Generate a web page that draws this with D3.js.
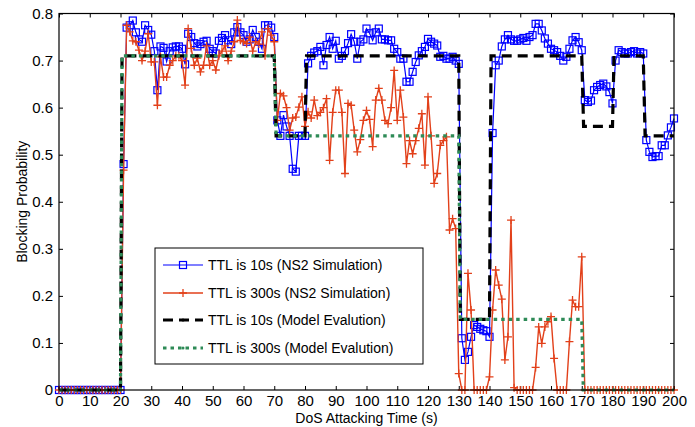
<!DOCTYPE html>
<html>
<head>
<meta charset="utf-8">
<script src="https://cdn.jsdelivr.net/npm/d3@7"></script>
<style>
  body { margin: 0; background: #fff; }
  svg { display: block; font-family: Arial, "Liberation Sans", sans-serif; }
</style>
</head>
<body>
<div id="chart"></div>
<script>
// blocking probability, one sample per second (t = 0..200)
const ttl10Sim = [
  0,0,0,0,0,0,0,0,0,0, 0,0,0,0,0,0,0,0,0,0,
  0, 0.48, 0.77, 0.775, 0.785, 0.76, 0.745, 0.74, 0.775, 0.765,
  0.755, 0.72, 0.637, 0.73, 0.727, 0.698, 0.72, 0.728, 0.73, 0.73,
  0.725, 0.692, 0.757, 0.75, 0.737, 0.73, 0.735, 0.74, 0.742, 0.725,
  0.72, 0.715, 0.742, 0.748, 0.754, 0.743, 0.735, 0.76, 0.771, 0.76,
  0.754, 0.74, 0.745, 0.765, 0.75, 0.74, 0.725, 0.775, 0.775, 0.77,
  0.75, 0.573, 0.54, 0.584, 0.56, 0.54, 0.47, 0.464, 0.54, 0.54,
  0.54, 0.694, 0.71, 0.717, 0.72, 0.729, 0.69, 0.733, 0.75, 0.725,
  0.742, 0.704, 0.71, 0.72, 0.737, 0.756, 0.74, 0.704, 0.74, 0.745,
  0.768, 0.758, 0.743, 0.76, 0.768, 0.745, 0.745, 0.743, 0.743, 0.725,
  0.718, 0.704, 0.704, 0.655, 0.655, 0.676, 0.697, 0.711, 0.72, 0.729,
  0.746, 0.74, 0.736, 0.732, 0.708, 0.71, 0.704, 0.704, 0.708, 0.7,
  0.693, 0.11, 0.064, 0.081, 0.113, 0.138, 0.134, 0.13, 0.127, 0.125,
  0.113, 0.546, 0.69, 0.7, 0.73, 0.745, 0.754, 0.745, 0.742, 0.742,
  0.745, 0.748, 0.742, 0.75, 0.754, 0.778, 0.778, 0.764, 0.747, 0.736,
  0.725, 0.722, 0.718, 0.71, 0.7, 0.708, 0.725, 0.743, 0.75, 0.739,
  0.722, 0.616, 0.612, 0.615, 0.637, 0.644, 0.648, 0.651, 0.645, 0.633,
  0.609, 0.7, 0.722, 0.718, 0.715, 0.715, 0.718, 0.72, 0.715, 0.718,
  0.715, 0.531, 0.506, 0.495, 0.497, 0.497, 0.52, 0.52, 0.541, 0.558,
  0.577
];
const ttl300Sim = [
  0,0,0,0,0,0,0,0,0,0, 0,0,0,0,0,0,0,0,0,0,
  0, 0.467, 0.775, 0.761, 0.742, 0.74, 0.722, 0.7, 0.72, 0.757,
  0.697, 0.697, 0.605, 0.708, 0.665, 0.665, 0.69, 0.7, 0.71, 0.71,
  0.7, 0.648, 0.768, 0.726, 0.69, 0.705, 0.676, 0.69, 0.731, 0.69,
  0.7, 0.68, 0.71, 0.72, 0.731, 0.7, 0.72, 0.74, 0.786, 0.743,
  0.74, 0.736, 0.75, 0.72, 0.74, 0.735, 0.761, 0.71, 0.768, 0.754,
  0.74, 0.573, 0.63, 0.625, 0.6, 0.552, 0.578, 0.58, 0.601, 0.623,
  0.56, 0.591, 0.578, 0.616, 0.583, 0.59, 0.6, 0.619, 0.488, 0.59,
  0.637, 0.637, 0.59, 0.46, 0.609, 0.605, 0.552, 0.506, 0.532, 0.573,
  0.594, 0.575, 0.517, 0.616, 0.641, 0.616, 0.573, 0.566, 0.6, 0.679,
  0.573, 0.637, 0.58, 0.481, 0.53, 0.502, 0.53, 0.556, 0.587, 0.478,
  0.623, 0.54, 0.439, 0.46, 0.52, 0.53, 0.538, 0.34, 0.364, 0.343,
  0.035, 0, 0, 0.248, 0.17, 0, 0, 0, 0, 0,
  0.028, 0.17, 0.255, 0.223, 0.193, 0.064, 0.113, 0.361, 0.005, 0,
  0, 0, 0, 0, 0, 0.048, 0.134, 0.099, 0.134, 0.145,
  0.156, 0.067, 0, 0, 0, 0, 0.103, 0.191, 0.177, 0.177,
  0.283, 0, 0, 0, 0, 0, 0, 0, 0, 0,
  0, 0, 0, 0, 0, 0, 0, 0, 0, 0,
  0, 0, 0, 0, 0, 0, 0, 0, 0, 0,
  0
];
// model curves as breakpoints
const ttl10ModelTime = [0, 20, 20.5, 70, 70.6, 80, 80.5, 130, 130.5, 140, 140.5, 170, 170.6, 180, 180.5, 190, 190.6, 200];
const ttl10ModelVal  = [0, 0, 0.71, 0.71, 0.54, 0.54, 0.71, 0.71, 0.15, 0.15, 0.71, 0.71, 0.56, 0.56, 0.71, 0.71, 0.54, 0.54];
const ttl300ModelTime = [0, 20, 20.5, 70, 70.6, 130, 130.5, 170, 170.5, 200];
const ttl300ModelVal  = [0, 0, 0.71, 0.71, 0.54, 0.54, 0.15, 0.15, 0, 0];

const xTicks = [0, 10, 20, 30, 40, 50, 60, 70, 80, 90, 100, 110, 120, 130, 140, 150, 160, 170, 180, 190, 200];
const yTicks = [0, 0.1, 0.2, 0.3, 0.4, 0.5, 0.6, 0.7, 0.8];
const yTickLabels = ["0", "0.1", "0.2", "0.3", "0.4", "0.5", "0.6", "0.7", "0.8"];
const legendLabels = [
  "TTL is 10s (NS2 Simulation)",
  "TTL is 300s (NS2 Simulation)",
  "TTL is 10s (Model Evalution)",
  "TTL is 300s (Model Evalution)"
];

const W = 695, H = 427;
const pLeft = 59, pRight = 674, pTop = 13.5, pBottom = 390;
const blue = "#0000ff", red = "#e2401a", green = "#2e8b57";

const svg = d3.select("#chart").append("svg").attr("width", W).attr("height", H);

const x = d3.scaleLinear().domain([0, 200]).range([pLeft, pRight]);
const y = d3.scaleLinear().domain([0, 0.8]).range([pBottom, pTop]);

const simPts = arr => arr.map((v, i) => [i, v]);
const modelPts = (ts, vs) => ts.map((t, i) => [t, vs[i]]);
const line = d3.line().x(d => x(d[0])).y(d => y(d[1]));

// axes (ticks point inward like Matlab)
const fs = "14px", tickFs = "15px";
const gx = svg.append("g").attr("transform", `translate(0,${pBottom})`)
  .call(d3.axisBottom(x).tickValues(xTicks).tickSize(-4).tickPadding(5));
const gy = svg.append("g").attr("transform", `translate(${pLeft},0)`)
  .call(d3.axisLeft(y).tickValues(yTicks).tickSize(-4).tickPadding(6)
    .tickFormat((d, i) => yTickLabels[i]));
const gt = svg.append("g").attr("transform", `translate(0,${pTop})`)
  .call(d3.axisTop(x).tickValues(xTicks).tickSize(-4).tickFormat(""));
const gr = svg.append("g").attr("transform", `translate(${pRight},0)`)
  .call(d3.axisRight(y).tickValues(yTicks).tickSize(-4).tickFormat(""));
[gx, gy, gt, gr].forEach(g => {
  g.select(".domain").remove();
  g.attr("font-size", null).attr("font-family", null);
  g.selectAll("line").attr("stroke", "#000");
  g.selectAll("text").attr("fill", "#000").style("font-size", tickFs);
});

// series
svg.append("path").datum(simPts(ttl10Sim)).attr("d", line)
  .attr("fill", "none").attr("stroke", blue).attr("stroke-width", 1.2);
svg.append("g").selectAll("rect").data(simPts(ttl10Sim)).join("rect")
  .attr("x", d => x(d[0]) - 3.5).attr("y", d => y(d[1]) - 3.5)
  .attr("width", 7).attr("height", 7)
  .attr("fill", "none").attr("stroke", blue).attr("stroke-width", 1.2);

svg.append("path").datum(simPts(ttl300Sim)).attr("d", line)
  .attr("fill", "none").attr("stroke", red).attr("stroke-width", 1.4);
svg.append("g").selectAll("path").data(simPts(ttl300Sim)).join("path")
  .attr("d", d => {
    const cx = x(d[0]), cy = y(d[1]);
    return `M${cx - 4},${cy}H${cx + 4}M${cx},${cy - 4}V${cy + 4}`;
  })
  .attr("stroke", red).attr("stroke-width", 1.3);

svg.append("path").datum(modelPts(ttl10ModelTime, ttl10ModelVal)).attr("d", line)
  .attr("fill", "none").attr("stroke", "#000").attr("stroke-width", 3.2)
  .attr("stroke-dasharray", "10,6");
svg.append("path").datum(modelPts(ttl300ModelTime, ttl300ModelVal)).attr("d", line)
  .attr("fill", "none").attr("stroke", green).attr("stroke-width", 3.2)
  .attr("stroke-dasharray", "3.5,4");

// plot frame
svg.append("rect").attr("x", pLeft).attr("y", pTop)
  .attr("width", pRight - pLeft).attr("height", pBottom - pTop)
  .attr("fill", "none").attr("stroke", "#000").attr("stroke-width", 1.2);

// axis titles
svg.append("text").attr("x", (pLeft + pRight) / 2).attr("y", 423)
  .attr("text-anchor", "middle").style("font-size", fs).text("DoS Attacking Time (s)");
svg.append("text").attr("transform", `translate(27,${(pTop + pBottom) / 2}) rotate(-90)`)
  .attr("text-anchor", "middle").style("font-size", fs).text("Blocking Probability");

// legend
const lg = svg.append("g");
lg.append("rect").attr("x", 155).attr("y", 248).attr("width", 268).attr("height", 116)
  .attr("fill", "#fff").attr("stroke", "#000").attr("stroke-width", 1);
const rows = [265, 293, 320, 348];
const styles = [
  { c: blue, w: 1.2, dash: null, mark: "sq" },
  { c: red, w: 1.4, dash: null, mark: "plus" },
  { c: "#000", w: 3.2, dash: "10,6", mark: "dot" },
  { c: green, w: 3.2, dash: "3.5,4", mark: "dot" }
];
legendLabels.forEach((lab, i) => {
  const ry = rows[i], s = styles[i];
  lg.append("line").attr("x1", 163).attr("x2", 203).attr("y1", ry).attr("y2", ry)
    .attr("stroke", s.c).attr("stroke-width", s.w).attr("stroke-dasharray", s.dash);
  if (s.mark === "sq") {
    lg.append("rect").attr("x", 179.5).attr("y", ry - 3.5).attr("width", 7).attr("height", 7)
      .attr("fill", "none").attr("stroke", s.c).attr("stroke-width", 1.2);
  } else if (s.mark === "plus") {
    lg.append("path").attr("d", `M179,${ry}H187M183,${ry - 4}V${ry + 4}`)
      .attr("stroke", s.c).attr("stroke-width", 1.3);
  } else {
    lg.append("circle").attr("cx", 183).attr("cy", ry).attr("r", 1.5).attr("fill", s.c);
  }
  lg.append("text").attr("x", 208).attr("y", ry + 5).style("font-size", fs).text(lab);
});
</script>
</body>
</html>
